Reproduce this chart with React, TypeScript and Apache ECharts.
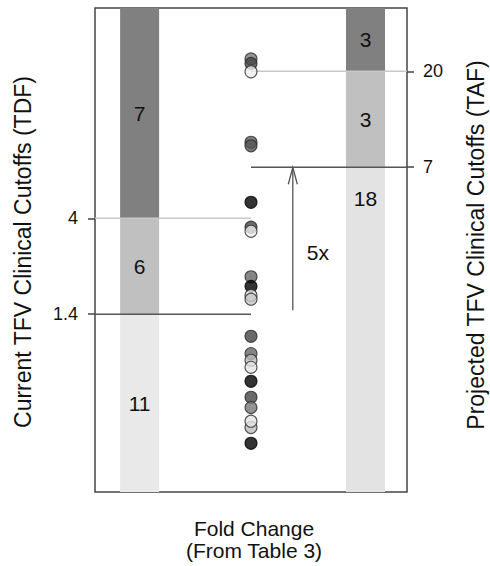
import React, { useEffect, useRef } from "react";
import * as echarts from "echarts";

// ---- data ----
const axisMin = 0.2;
const axisMax = 40;
const tdfCutoffs = [1.4, 4]; // current TFV clinical cutoffs (TDF)
const tafCutoffs = [7, 20]; // projected TFV clinical cutoffs (TAF)
const tdfCounts = [11, 6, 7]; // below 1.4, 1.4-4, above 4
const tafCounts = [18, 3, 3]; // below 7, 7-20, above 20
const foldChanges = [
  22.9, 21.8, 19.9, 9.2, 8.85, 4.77, 3.63, 3.47, 2.11, 1.9, 1.72, 1.65, 1.1,
  0.91, 0.846, 0.783, 0.672, 0.564, 0.504, 0.405, 0.434, 0.341,
];
const foldShades = [
  "#7a7a7a", "#444444", "#eeeeee", "#5e5e5e", "#555555", "#000000", "#444444",
  "#eeeeee", "#666666", "#000000", "#eeeeee", "#c4c4c4", "#444444", "#666666",
  "#bdbdbd", "#e4e4e4", "#000000", "#444444", "#777777", "#bdbdbd", "#e4e4e4",
  "#000000",
];
const foldLabel = "5x";
const xTitleLines = ["Fold Change", "(From Table 3)"];

// ---- layout / style ----
const FONT = "'Liberation Sans', Arial, Helvetica, sans-serif";
const LEFT_X = 14.3;
const DOT_X = 50;
const RIGHT_X = 86.7;
const ARROW_X = 63.4;
const BAR_W = 12.5;
const segColors = ["#e9e9e9", "#c0c0c0", "#808080"];
const rightSegColors = ["#e3e3e3", "#c0c0c0", "#808080"];

type Seg = { x: number; lo: number; hi: number; count: number; color: string; labelTop: boolean };

function buildSegments(): Seg[] {
  const out: Seg[] = [];
  const lb = [axisMin, ...tdfCutoffs, axisMax];
  const rb = [axisMin, ...tafCutoffs, axisMax];
  for (let i = 0; i < 3; i++) {
    out.push({ x: LEFT_X, lo: lb[i], hi: lb[i + 1], count: tdfCounts[i], color: segColors[i], labelTop: false });
  }
  for (let i = 0; i < 3; i++) {
    out.push({ x: RIGHT_X, lo: rb[i], hi: rb[i + 1], count: tafCounts[i], color: rightSegColors[i], labelTop: i === 0 });
  }
  return out;
}

export default function App() {
  const ref = useRef<HTMLDivElement>(null);
  useEffect(() => {
    document.body.style.margin = "0";
    if (!ref.current) return;
    const chart = echarts.init(ref.current, undefined, { renderer: "svg" });
    const segs = buildSegments();

    const refLines: any[] = [];
    tdfCutoffs.forEach((c, i) => {
      refLines.push({
        type: "line",
        data: [[0, c], [DOT_X, c]],
        symbol: "none",
        silent: true,
        z: 3,
        lineStyle: { color: i === 0 ? "#555555" : "#c8c8c8", width: 1.5 },
      });
    });
    tafCutoffs.forEach((c, i) => {
      refLines.push({
        type: "line",
        data: [[DOT_X, c], [100, c]],
        symbol: "none",
        silent: true,
        z: 3,
        lineStyle: { color: i === 0 ? "#555555" : "#c8c8c8", width: 1.5 },
      });
    });

    const tickCommon = {
      type: "log",
      logBase: 10,
      min: axisMin,
      max: axisMax,
      splitLine: { show: false },
      axisLine: { show: false },
    };

    chart.setOption({
      animation: false,
      grid: {
        left: 95,
        right: 83,
        top: 8,
        bottom: 74,
        show: true,
        borderColor: "#444",
        borderWidth: 1.5,
        backgroundColor: "#fff",
      },
      xAxis: { type: "value", min: 0, max: 100, show: false },
      yAxis: [
        {
          ...tickCommon,
          position: "left",
          axisTick: { show: true, customValues: tdfCutoffs, length: 7, inside: false, lineStyle: { color: "#444", width: 1.5 } },
          axisLabel: { show: true, customValues: tdfCutoffs, margin: 17, fontSize: 18, color: "#111", fontFamily: FONT },
        },
        {
          ...tickCommon,
          position: "right",
          axisTick: { show: true, customValues: tafCutoffs, length: 7, inside: false, lineStyle: { color: "#444", width: 1.5 } },
          axisLabel: { show: true, customValues: tafCutoffs, margin: 16, fontSize: 18, color: "#111", fontFamily: FONT },
        },
      ],
      series: [
        {
          type: "custom",
          z: 1,
          silent: true,
          data: segs.map((s) => [s.x, s.lo, s.hi]),
          encode: { x: 0, y: [1, 2] },
          renderItem: (params: any, api: any) => {
            const s = segs[params.dataIndex];
            const x = api.value(0);
            const top = api.coord([x, api.value(2)]);
            const bot = api.coord([x, api.value(1)]);
            const xl = api.coord([x - BAR_W / 2, api.value(2)])[0];
            const xr = api.coord([x + BAR_W / 2, api.value(2)])[0];
            const ly = s.labelTop ? top[1] + 31 : (top[1] + bot[1]) / 2;
            return {
              type: "group",
              children: [
                { type: "rect", shape: { x: xl, y: top[1], width: xr - xl, height: bot[1] - top[1] }, style: { fill: s.color } },
                {
                  type: "text",
                  x: (xl + xr) / 2,
                  y: ly,
                  style: { text: String(s.count), fill: "#111", font: `21px ${FONT}`, textAlign: "center", textVerticalAlign: "middle" },
                },
              ],
            };
          },
        },
        ...refLines,
        {
          type: "custom",
          z: 4,
          silent: true,
          data: [[ARROW_X, tdfCutoffs[0], tafCutoffs[0]]],
          encode: { x: 0, y: [1, 2] },
          renderItem: (params: any, api: any) => {
            const x = api.value(0);
            const a = api.coord([x, api.value(1)]);
            const b = api.coord([x, api.value(2)]);
            const bottom = a[1] - 4;
            const tip = b[1];
            const mid = (bottom + tip) / 2;
            return {
              type: "group",
              children: [
                { type: "line", shape: { x1: a[0], y1: bottom, x2: a[0], y2: tip }, style: { stroke: "#555", lineWidth: 1.3 } },
                {
                  type: "polyline",
                  shape: { points: [[a[0] - 4.5, tip + 17], [a[0], tip], [a[0] + 4.5, tip + 17]] },
                  style: { stroke: "#555", lineWidth: 1.3, fill: "none" },
                },
                {
                  type: "text",
                  x: a[0] + 25,
                  y: mid + 14,
                  style: { text: foldLabel, fill: "#111", font: `21px ${FONT}`, textAlign: "center", textVerticalAlign: "middle" },
                },
              ],
            };
          },
        },
        {
          type: "scatter",
          z: 5,
          silent: true,
          symbol: "circle",
          symbolSize: 12,
          data: foldChanges.map((v, i) => ({
            value: [DOT_X, v],
            itemStyle: { color: foldShades[i], borderColor: foldShades[i] === "#000000" ? "#000" : "#2a2a2a", borderWidth: 1.1 },
          })),
        },
      ],
      graphic: [
        {
          type: "text",
          x: 23,
          y: 252,
          rotation: Math.PI / 2,
          style: { text: "Current TFV Clinical Cutoffs (TDF)", fill: "#111", font: `23px ${FONT}`, textAlign: "center", textVerticalAlign: "middle" },
        },
        {
          type: "text",
          x: 476,
          y: 245,
          rotation: Math.PI / 2,
          style: { text: "Projected TFV Clinical Cutoffs (TAF)", fill: "#111", font: `23px ${FONT}`, textAlign: "center", textVerticalAlign: "middle" },
        },
        ...xTitleLines.map((t, i) => ({
          type: "text",
          x: 254,
          y: 528 + i * 22,
          style: { text: t, fill: "#111", font: `21px ${FONT}`, textAlign: "center", textVerticalAlign: "middle" },
        })),
      ],
    });
    return () => chart.dispose();
  }, []);
  return <div ref={ref} style={{ width: 490, height: 566 }} />;
}
